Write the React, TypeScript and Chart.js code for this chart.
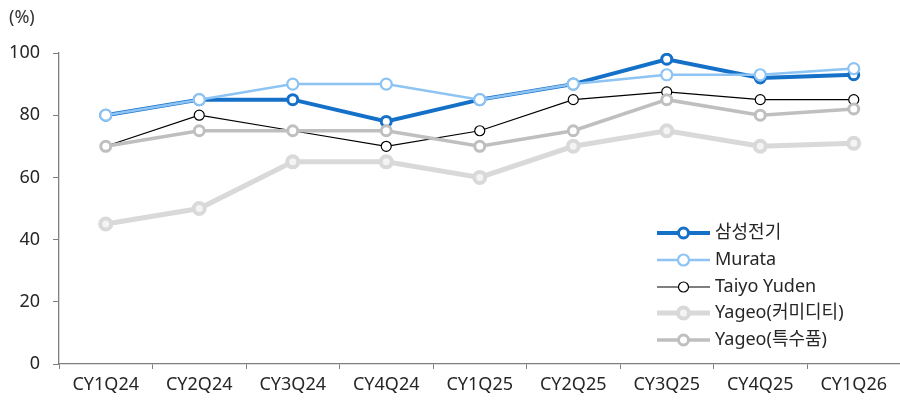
import React, { useEffect, useRef } from "react";
import { Chart, registerables } from "chart.js";

Chart.register(...registerables);

const categories = ["CY1Q24", "CY2Q24", "CY3Q24", "CY4Q24", "CY1Q25", "CY2Q25", "CY3Q25", "CY4Q25", "CY1Q26"];
const seriesNames = ["삼성전기", "Murata", "Taiyo Yuden", "Yageo(커미디티)", "Yageo(특수품)"];
const samsung = [80, 85, 85, 78, 85, 90, 98, 92, 93];
const murata = [80, 85, 90, 90, 85, 90, 93, 93, 95];
const taiyo = [70, 80, 75, 70, 75, 85, 87.5, 85, 85];
const yageoCommodity = [45, 50, 65, 65, 60, 70, 75, 70, 71];
const yageoSpecial = [70, 75, 75, 75, 70, 75, 85, 80, 82];
const yTicks = [0, 20, 40, 60, 80, 100];

const FONT = "'Noto Sans', 'Noto Sans CJK KR', sans-serif";

const styles = [
  { color: "#1570c8", width: 4, radius: 5, bw: 3, fill: "#ffffff" },
  { color: "#8ec4f4", width: 2.5, radius: 5.5, bw: 2.2, fill: "#ffffff" },
  { color: "#000000", width: 1.2, radius: 5, bw: 1.2, fill: "#ffffff" },
  { color: "#d9d9d9", width: 5, radius: 5.5, bw: 4, fill: "#f4f4f4" },
  { color: "#bfbfbf", width: 3.5, radius: 5, bw: 3, fill: "#ffffff" },
];

const legendPlugin = {
  id: "customLegend",
  afterDraw(chart: any) {
    const ctx = chart.ctx;
    ctx.save();
    ctx.font = `18px ${FONT}`;
    ctx.fillStyle = "#333333";
    ctx.textBaseline = "middle";
    ctx.textAlign = "left";
    ctx.fillText("(%)", 9, 18);
    const x0 = 657;
    const x1 = 710;
    const ys = [233, 260, 287, 313, 340];
    chart.data.datasets.forEach((ds: any, i: number) => {
      const y = ys[i];
      ctx.strokeStyle = ds.borderColor;
      ctx.lineWidth = ds.borderWidth;
      ctx.beginPath();
      ctx.moveTo(x0, y);
      ctx.lineTo(x1, y);
      ctx.stroke();
      ctx.beginPath();
      ctx.arc((x0 + x1) / 2, y, ds.pointRadius, 0, Math.PI * 2);
      ctx.fillStyle = ds.pointBackgroundColor;
      ctx.fill();
      ctx.lineWidth = ds.pointBorderWidth;
      ctx.strokeStyle = ds.pointBorderColor;
      ctx.stroke();
      ctx.fillStyle = "#262626";
      ctx.font = `18px ${FONT}`;
      ctx.fillText(ds.label, 715, y);
    });
    ctx.restore();
  },
};

export default function App() {
  const ref = useRef<HTMLCanvasElement>(null);
  useEffect(() => {
    if (!ref.current) return;
    const values = [samsung, murata, taiyo, yageoCommodity, yageoSpecial];
    const chart = new Chart(ref.current, {
      type: "line",
      data: {
        labels: categories,
        datasets: values.map((v, i) => ({
          label: seriesNames[i],
          data: v,
          borderColor: styles[i].color,
          borderWidth: styles[i].width,
          pointRadius: styles[i].radius,
          pointBorderWidth: styles[i].bw,
          pointBorderColor: styles[i].color,
          pointBackgroundColor: styles[i].fill,
          tension: 0,
          order: 5 - i,
        })),
      },
      options: {
        responsive: false,
        animation: false,
        devicePixelRatio: 1,
        layout: { padding: { top: 53, left: 0, right: 5, bottom: 0 } },
        plugins: { legend: { display: false }, tooltip: { enabled: false } },
        scales: {
          x: {
            offset: true,
            afterFit: (scale: any) => {
              scale.height = 37;
            },
            grid: {
              offset: true,
              drawOnChartArea: false,
              drawTicks: true,
              tickLength: 5,
              color: "#7f7f7f",
            },
            border: { color: "#7f7f7f", width: 1.3 },
            ticks: { color: "#262626", font: { family: FONT, size: 18 }, padding: 5, maxRotation: 0 },
          },
          y: {
            min: 0,
            max: 100,
            afterBuildTicks: (scale: any) => {
              scale.ticks = yTicks.map((v) => ({ value: v }));
            },
            afterFit: (scale: any) => {
              scale.width = 59;
            },
            grid: {
              drawOnChartArea: false,
              drawTicks: true,
              tickLength: 6,
              color: "#7f7f7f",
            },
            border: { color: "#7f7f7f", width: 1.3 },
            ticks: { color: "#262626", font: { family: FONT, size: 18 }, padding: 13 },
          },
        },
      },
      plugins: [legendPlugin],
    });
    return () => chart.destroy();
  }, []);
  return (
    <div style={{ position: "fixed", left: 0, top: 0, width: 910, height: 401, overflow: "hidden", background: "#fff" }}>
      <canvas ref={ref} width={910} height={401} style={{ width: 910, height: 401 }} />
    </div>
  );
}
